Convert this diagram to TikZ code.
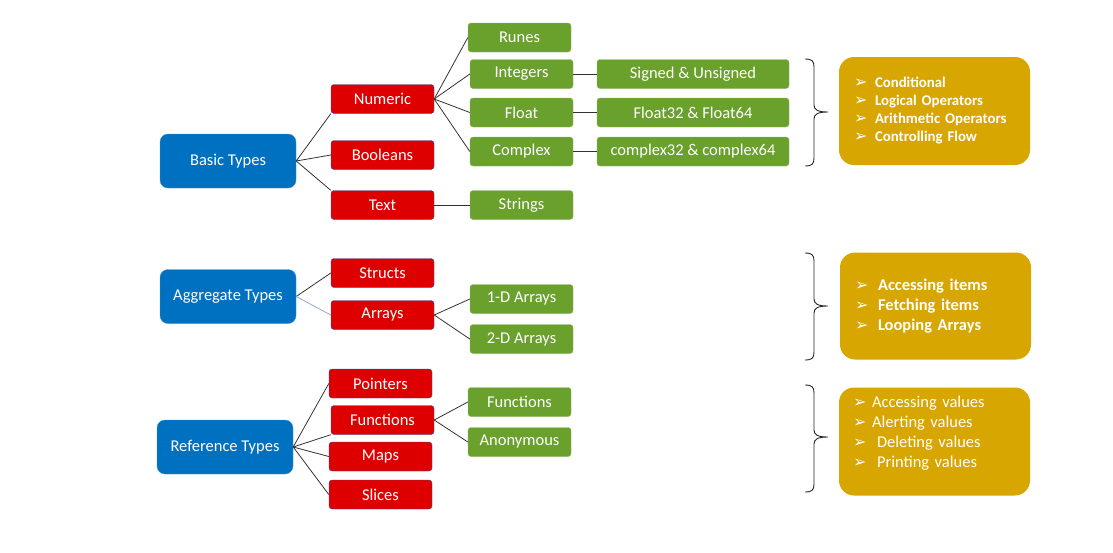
\documentclass[tikz,border=0pt]{standalone}
\usepackage{fontspec}
\setmainfont{Carlito}
\newfontfamily\symfont{DejaVu Sans}
\usepackage{xcolor}
\usetikzlibrary{positioning}
\definecolor{typeBlue}{RGB}{0, 112, 192}
\definecolor{typeRed}{RGB}{222, 0, 0}
\definecolor{typeGreen}{RGB}{106, 160, 44}
\definecolor{noteGold}{RGB}{216, 166, 0}
\definecolor{edgeNavy}{RGB}{47, 82, 143}
\definecolor{linkBlue}{RGB}{143, 170, 220}
\newcommand{\bul}[1]{\makebox[#1][l]{\symfont\fontsize{16}{16}\selectfont ➢}}

\begin{document}
\begin{tikzpicture}[x=1pt, y=-1pt,
    every node/.style={font=\fontsize{16.5}{20}\selectfont, text=white},
    typebox/.style={fill=typeBlue, draw=typeBlue!75!white, rounded corners=8pt, minimum width=136pt, minimum height=54pt, inner sep=0pt},
    kindbox/.style={fill=typeRed, draw=edgeNavy, rounded corners=3pt, minimum width=103pt, minimum height=29pt, inner sep=0pt},
    leafbox/.style={fill=typeGreen, draw=typeGreen!75!white, rounded corners=3pt, minimum width=103pt, minimum height=29pt, inner sep=0pt},
    notebox/.style={fill=noteGold, rounded corners=15pt, text width=161pt, inner xsep=15pt, inner ysep=0pt, minimum height=108pt, align=left},
    link/.style={draw=black!80, line width=0.8pt},
    brace/.style={draw=black!85, line width=0.9pt}]
            \useasboundingbox (0,0) rectangle (1113,552);
            % basic types
            \node[typebox] (basic) at (228,161) {Basic Types};
            \node[kindbox] (numeric) at (382.5,99) {Numeric};
            \node[kindbox] (booleans) at (382.5,155) {Booleans};
            \node[kindbox] (text) at (382.5,205) {Text};
            \node[leafbox] (runes) at (519.5,37.5) {Runes};
            \node[leafbox] (integers) at (521.5,74) {Integers};
            \node[leafbox] (float) at (521.5,112.5) {Float};
            \node[leafbox] (complex) at (521.5,151.5) {Complex};
            \node[leafbox] (strings) at (521.5,205) {Strings};
            \node[leafbox, minimum width=192pt] (signed) at (693,74) {Signed \& Unsigned};
            \node[leafbox, minimum width=192pt] (floatsize) at (693,112.5) {Float32 \& Float64};
            \node[leafbox, minimum width=192pt] (complexsize) at (693,151.5) {complex32 \& complex64};
            \draw[link] (basic.east)--(numeric.south west);
            \draw[link] (basic.east)--(booleans.west);
            \draw[link] (basic.east)--(text.north west);
            \draw[link] (numeric.east)--(runes.west);
            \draw[link] (numeric.east)--(integers.west);
            \draw[link] (numeric.east)--(float.west);
            \draw[link] (numeric.east)--(complex.west);
            \draw[link] (text.east)--(strings.west);
            \draw[link] (integers.east)--(signed.west);
            \draw[link] (float.east)--(floatsize.west);
            \draw[link] (complex.east)--(complexsize.west);
            \draw[brace] (805,59) .. controls (812,59) and (814,61) .. (814,67) -- (814,105) .. controls (814,110) and (818,112) .. (828,112) .. controls (818,112) and (814,114) .. (814,119) -- (814,158) .. controls (814,164) and (812,166) .. (805,166);
            \node[notebox, font=\bfseries\fontsize{14.8}{18}\selectfont] (control) at (934.5,111) {\bul{21pt}Conditional\\ \bul{21pt}Logical Operators\\ \bul{21pt}Arithmetic Operators\\ \bul{21pt}Controlling Flow};
            % aggregate types
            \node[typebox] (aggregate) at (228,296.5) {Aggregate Types};
            \node[kindbox] (structs) at (382.5,273) {Structs};
            \node[kindbox] (arrays) at (382.5,315) {Arrays};
            \node[leafbox] (oned) at (521.5,299) {1-D Arrays};
            \node[leafbox] (twod) at (521.5,339) {2-D Arrays};
            \draw[link] (aggregate.east)--(structs.west);
            \draw[link, draw=linkBlue] (aggregate.east)--(arrays.west);
            \draw[link] (arrays.east)--(oned.west);
            \draw[link] (arrays.east)--(twod.west);
            \draw[brace] (805,253) .. controls (812,253) and (814,255) .. (814,261) -- (814,299) .. controls (814,304) and (818,306) .. (828,306) .. controls (818,306) and (814,308) .. (814,313) -- (814,352) .. controls (814,358) and (812,360) .. (805,360);
            \node[notebox, font=\bfseries\fontsize{16.5}{20}\selectfont, minimum height=107pt] (items) at (935.5,306) {\bul{23pt}Accessing items\\ \bul{23pt}Fetching items\\ \bul{23pt}Looping Arrays};
            % reference types
            \node[typebox] (reference) at (225,447) {Reference Types};
            \node[kindbox] (pointers) at (380.5,383.5) {Pointers};
            \node[kindbox] (functions) at (382.5,420) {Functions};
            \node[kindbox] (maps) at (380.5,456.5) {Maps};
            \node[kindbox] (slices) at (380.5,494.5) {Slices};
            \node[leafbox] (funcs) at (519.5,402) {Functions};
            \node[leafbox] (anonymous) at (519.5,442) {Anonymous};
            \draw[link] (reference.east)--(pointers.west);
            \draw[link] (reference.east)--(functions.south west);
            \draw[link] (reference.east)--(maps.west);
            \draw[link] (reference.east)--(slices.west);
            \draw[link] (functions.east)--(funcs.west);
            \draw[link] (functions.east)--(anonymous.west);
            \draw[brace] (805,385) .. controls (812,385) and (814,387) .. (814,393) -- (814,430) .. controls (814,435) and (818,437) .. (828,437) .. controls (818,437) and (814,439) .. (814,444) -- (814,484) .. controls (814,490) and (812,492) .. (805,492);
            \node[notebox, font=\fontsize{16.5}{20}\selectfont, inner xsep=14pt, text width=163pt] (values) at (934.5,441.5) {\bul{19pt}Accessing values\\ \bul{19pt}Alerting values\\ \bul{24pt}Deleting values\\ \bul{24pt}Printing values\\[-4pt] \mbox{}\vspace{4pt}};
        \end{tikzpicture}
\end{document}
